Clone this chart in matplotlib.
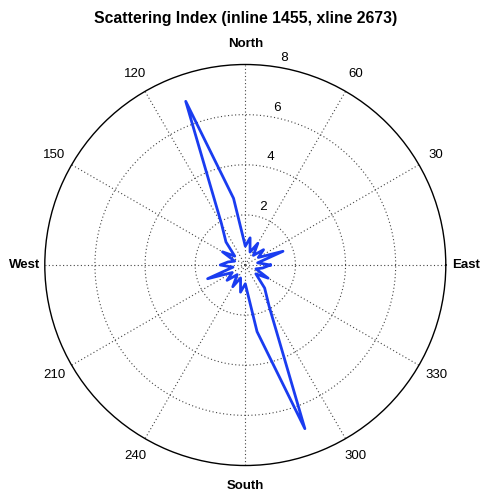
import numpy as np
import matplotlib
matplotlib.use("Agg")
import matplotlib.pyplot as plt

plt.rcParams['font.family'] = ['Liberation Sans', 'DejaVu Sans']

# ---- data ----
angles_deg = [0, 10, 20, 30, 40, 50, 60, 70, 80, 90, 100, 110, 120, 130, 140, 150, 160, 170,
              180, 190, 200, 210, 220, 230, 240, 250, 260, 270, 280, 290, 300, 310, 320, 330, 340, 350, 360]
scatter_index = [1.0, 0.5, 1.6, 0.6, 0.95, 0.5, 1.0, 0.55, 1.1, 0.75, 2.7, 6.95, 1.9, 1.2, 0.55, 1.05, 0.45, 0.7,
                 1.0, 0.5, 1.6, 0.6, 0.95, 0.5, 1.0, 0.55, 1.1, 0.75, 2.7, 6.95, 1.9, 1.2, 0.55, 1.05, 0.45, 0.7,
                 1.0]
ring_values = [2, 4, 6, 8]
spoke_angles = [0, 30, 60, 90, 120, 150, 180, 210, 240, 270, 300, 330]
spoke_labels = ['East', '30', '60', 'North', '120', '150', 'West', '210', '240', 'South', '300', '330']
title = 'Scattering Index (inline 1455, xline 2673)'
rmax = 8

W, H = 481, 493
fig = plt.figure(figsize=(W / 100, H / 100), dpi=100)
cx, cy, R = 245.3, 265, 200.5
ax = fig.add_axes([(cx - R) / W, (H - cy - R) / H, 2 * R / W, 2 * R / H], projection='polar')
ax.set_rlim(0, rmax)
ax.grid(False)
ax.set_xticks([])
ax.set_yticks([])
ax.spines['polar'].set_linewidth(1.0)
ax.spines['polar'].set_color('black')

full = np.linspace(0, 2 * np.pi, 361)
dot = (0, (1, 2.2))
for rv in ring_values[:-1]:
    ax.plot(full, np.full_like(full, rv), color='#444444', lw=0.8, ls=dot)
for a in spoke_angles:
    t = np.deg2rad(a)
    ax.plot([t, t], [0, rmax], color='#444444', lw=0.8, ls=dot)

# radial labels
for rv in ring_values:
    ax.text(np.deg2rad(82), rv + 0.1, '  ' + str(rv), ha='left', va='bottom', fontsize=9.5)

# angle labels
for a, lab in zip(spoke_angles, spoke_labels):
    bold = lab in ('North', 'South', 'East', 'West')
    ax.text(np.deg2rad(a), rmax * 1.1, lab, ha='center', va='center', fontsize=9.5,
            fontweight='bold' if bold else 'normal', clip_on=False)

ax.plot(np.deg2rad(angles_deg), scatter_index, color='#1a3cf0', lw=2.0, clip_on=False)

fig.text(cx / W, 1 - 18 / H, title, ha='center', va='center', fontsize=11.3, fontweight='bold')

fig.savefig('out.png', dpi=100)
